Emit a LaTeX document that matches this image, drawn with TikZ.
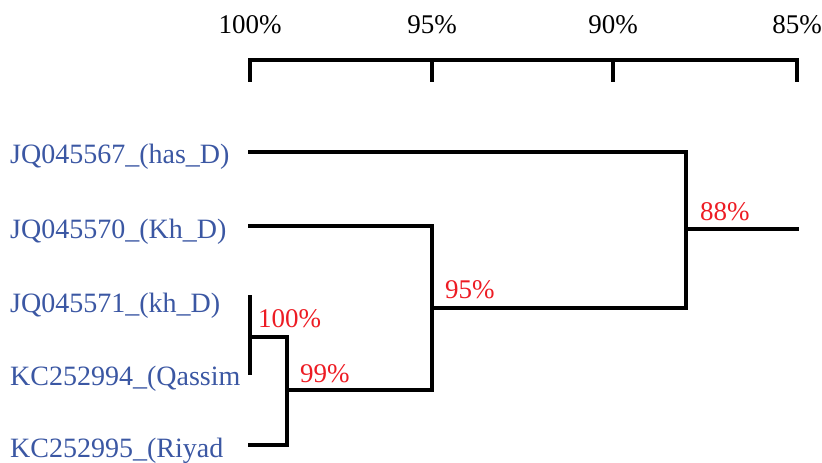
\documentclass[tikz,border=0pt]{standalone}
\usepackage{fontspec}
\setmainfont{Liberation Serif}
\definecolor{leafblue}{RGB}{59,87,163}
\definecolor{pctred}{RGB}{237,28,36}
\begin{document}
\begin{tikzpicture}[x=1pt,y=-1pt,
  branch/.style={line width=4.5pt, line cap=rect, line join=miter},
  leaf/.style={anchor=base west, inner sep=0pt, text=leafblue, font=\fontsize{28}{31}\selectfont},
  pct/.style={anchor=base west, inner sep=0pt, text=pctred, font=\fontsize{27}{30}\selectfont},
  scalelab/.style={anchor=base, inner sep=0pt, font=\fontsize{27}{30}\selectfont}]
\useasboundingbox (0,0) rectangle (822,463);
\clip (0,0) rectangle (822,463);
% scale axis
\coordinate (t100) at (250,60);
\coordinate (t95) at (432,60);
\coordinate (t90) at (613,60);
\coordinate (t85) at (797,60);
\draw[branch] ([yshift=-20pt]t100) -- (t100) -- (t85) -- ([yshift=-20pt]t85);
\draw[branch] (t95) -- ([yshift=-20pt]t95);
\draw[branch] (t90) -- ([yshift=-20pt]t90);
\node[scalelab] (s100) at (250,33) {100\%};
\node[scalelab] (s95) at (432,33) {95\%};
\node[scalelab] (s90) at (613,33) {90\%};
\node[scalelab] (s85) at (797,33) {85\%};
% leaves
\node[leaf] (l1) at (10,163) {JQ045567\_(has\_D)};
\node[leaf] (l2) at (10,238) {JQ045570\_(Kh\_D)};
\node[leaf] (l3) at (10,312) {JQ045571\_(kh\_D)};
\node[leaf] (l4) at (10,385) {KC252994\_(Qassim};
\node[leaf] (l5) at (10,457) {KC252995\_(Riyad};
% tree coordinates
\coordinate (a1) at (250,152);
\coordinate (a2) at (250,226);
\coordinate (a3) at (250,297);
\coordinate (a4) at (250,373);
\coordinate (a5) at (250,445);
\coordinate (n100) at (250,337);
\coordinate (n99a) at (287,337);
\coordinate (n99b) at (287,445);
\coordinate (n99) at (287,390);
\coordinate (n95) at (432,390);
\coordinate (n95t) at (432,226);
\coordinate (n95m) at (432,308);
\coordinate (n88b) at (686,308);
\coordinate (n88t) at (686,152);
\coordinate (n88) at (686,229);
\coordinate (root) at (797,229);
\draw[branch] (a3) -- (a4);
\draw[branch] (n100) -- (n99a) -- (n99b) -- (a5);
\draw[branch] (n99) -- (n95);
\draw[branch] (a2) -- (n95t) -- (n95);
\draw[branch] (n95m) -- (n88b) -- (n88t) -- (a1);
\draw[branch] (n88) -- (root);
% support labels
\node[pct] (p100) at (258,327) {100\%};
\node[pct] (p99) at (300,382) {99\%};
\node[pct] (p95) at (445,298) {95\%};
\node[pct] (p88) at (700,220) {88\%};
\end{tikzpicture}
\end{document}
